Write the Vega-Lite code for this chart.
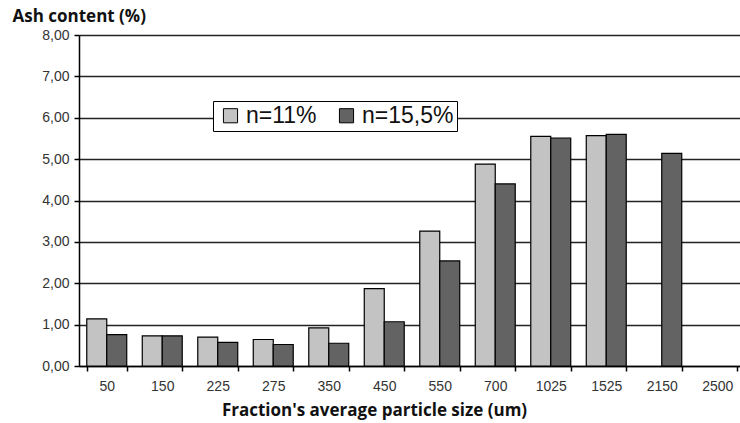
{
  "$schema": "https://vega.github.io/schema/vega-lite/v6.json",
  "width": 666,
  "height": 331,
  "autosize": {"type": "none"},
  "padding": {"left": 79, "top": 35, "right": 0, "bottom": 57},
  "background": "white",
  "data": {"values": [
    {"size": "50", "series": "n=11%", "ash": 1.14},
    {"size": "50", "series": "n=15,5%", "ash": 0.76},
    {"size": "150", "series": "n=11%", "ash": 0.73},
    {"size": "150", "series": "n=15,5%", "ash": 0.73},
    {"size": "225", "series": "n=11%", "ash": 0.70},
    {"size": "225", "series": "n=15,5%", "ash": 0.57},
    {"size": "275", "series": "n=11%", "ash": 0.64},
    {"size": "275", "series": "n=15,5%", "ash": 0.52},
    {"size": "350", "series": "n=11%", "ash": 0.92},
    {"size": "350", "series": "n=15,5%", "ash": 0.55},
    {"size": "450", "series": "n=11%", "ash": 1.87},
    {"size": "450", "series": "n=15,5%", "ash": 1.07},
    {"size": "550", "series": "n=11%", "ash": 3.26},
    {"size": "550", "series": "n=15,5%", "ash": 2.54},
    {"size": "700", "series": "n=11%", "ash": 4.88},
    {"size": "700", "series": "n=15,5%", "ash": 4.40},
    {"size": "1025", "series": "n=11%", "ash": 5.55},
    {"size": "1025", "series": "n=15,5%", "ash": 5.51},
    {"size": "1525", "series": "n=11%", "ash": 5.57},
    {"size": "1525", "series": "n=15,5%", "ash": 5.60},
    {"size": "2150", "series": "n=15,5%", "ash": 5.14}
  ]},
  "mark": {"type": "bar", "stroke": "black", "strokeWidth": 1.2},
  "encoding": {
    "x": {
      "field": "size", "type": "nominal", "sort": null,
      "scale": {"domain": ["50","150","225","275","350","450","550","700","1025","1525","2150","2500"], "paddingInner": 0.28, "paddingOuter": 0.14},
      "axis": {
        "title": "Fraction's average particle size (um)",
        "titleFont": "Open Sans", "titleFontWeight": "bold", "titleFontSize": 17, "titleColor": "#111",
        "titleX": 295, "titleY": 44, "titleBaseline": "middle",
        "labelAngle": 0, "labelFont": "Liberation Sans", "labelFontSize": 14, "labelColor": "#333", "labelPadding": 8,
        "tickBand": "extent", "tickColor": "black", "tickSize": 5, "tickWidth": 1.5, "domainColor": "black", "domainWidth": 1.5, "grid": false
      }
    },
    "xOffset": {"field": "series", "type": "nominal", "scale": {"domain": ["n=11%", "n=15,5%"], "paddingInner": 0, "paddingOuter": 0}},
    "y": {
      "field": "ash", "type": "quantitative",
      "scale": {"domain": [0, 8], "nice": false},
      "axis": {
        "title": "Ash content (%)", "titleAngle": 0, "titleAlign": "left", "titleBaseline": "alphabetic",
        "titleX": -67, "titleY": -14,
        "titleFont": "Open Sans", "titleFontWeight": "bold", "titleFontSize": 17, "titleColor": "#111",
        "values": [0,1,2,3,4,5,6,7,8],
        "labelExpr": "replace(format(datum.value, '.2f'), '.', ',')",
        "labelFont": "Liberation Sans", "labelFontSize": 14, "labelColor": "#333", "labelPadding": 5,
        "tickColor": "black", "tickSize": 5, "tickWidth": 1.5, "domainColor": "black", "domainWidth": 1.5,
        "grid": true, "gridColor": "#222", "gridWidth": 1.3
      }
    },
    "fill": {
      "field": "series", "type": "nominal",
      "scale": {"domain": ["n=11%", "n=15,5%"], "range": ["#c3c3c3", "#636363"]},
      "legend": {
        "title": null, "orient": "none", "legendX": 134, "legendY": 66, "direction": "horizontal",
        "symbolType": "square", "symbolSize": 200, "symbolStrokeColor": "black", "symbolStrokeWidth": 1,
        "labelFont": "Liberation Sans", "labelFontSize": 23, "labelColor": "#111",
        "fillColor": "white", "strokeColor": "black", "padding": 3, "columnPadding": 15, "symbolOffset": 3, "labelOffset": 4
      }
    }
  },
  "config": {"view": {"stroke": null}}
}
